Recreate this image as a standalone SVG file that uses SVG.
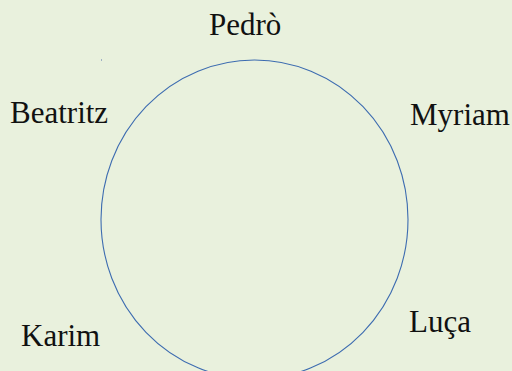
<svg xmlns="http://www.w3.org/2000/svg" width="512" height="371" viewBox="0 0 512 371">
<style>
.lbl{font-family:"Liberation Serif","Times New Roman",serif;font-size:31px;fill:#111;}
.ring{fill:none;stroke:#3d6cb0;stroke-width:1.1;}
</style>
<rect width="512" height="371" fill="#e9f1dd"/>
<g id="connectors">
<ellipse class="ring" cx="254.5" cy="219.5" rx="153.5" ry="159.5"/>
</g>
<rect x="101" y="59" width="1" height="2" fill="#9fb0c4"/>
<g id="pedro"><text class="lbl" x="209" y="35">Pedrò</text></g>
<g id="beatritz"><text class="lbl" x="10" y="123">Beatritz</text></g>
<g id="myriam"><text class="lbl" x="410" y="125">Myriam</text></g>
<g id="karim"><text class="lbl" x="21" y="346">Karim</text></g>
<g id="luca"><text class="lbl" x="409" y="332">Luça</text></g>
</svg>
